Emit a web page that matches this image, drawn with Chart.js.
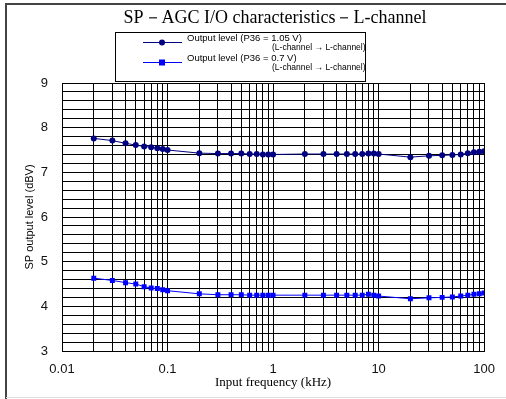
<!DOCTYPE html>
<html>
<head>
<meta charset="utf-8">
<script src="https://cdn.jsdelivr.net/npm/chart.js@4"></script>
<style>
	body { margin: 0; background: #fff; }
</style>
</head>
<body>
<canvas id="grafico" width="506" height="399"></canvas>
<script>
const frequencias = [0.02, 0.03, 0.04, 0.05, 0.06, 0.07, 0.08, 0.09, 0.1,
	0.2, 0.3, 0.4, 0.5, 0.6, 0.7, 0.8, 0.9, 1,
	2, 3, 4, 5, 6, 7, 8, 9, 10,
	20, 30, 40, 50, 60, 70, 80, 90, 100];
const saida105 = [7.76, 7.71, 7.65, 7.61, 7.58, 7.56, 7.54, 7.52, 7.50,
	7.43, 7.42, 7.42, 7.42, 7.41, 7.41, 7.40, 7.40, 7.40,
	7.41, 7.41, 7.41, 7.41, 7.41, 7.41, 7.42, 7.42, 7.41,
	7.34, 7.37, 7.38, 7.39, 7.40, 7.43, 7.45, 7.46, 7.47];
const saida07 = [4.63, 4.58, 4.53, 4.50, 4.44, 4.41, 4.40, 4.37, 4.35,
	4.28, 4.26, 4.26, 4.26, 4.25, 4.25, 4.25, 4.25, 4.25,
	4.25, 4.25, 4.25, 4.25, 4.25, 4.25, 4.27, 4.25, 4.23,
	4.17, 4.19, 4.20, 4.21, 4.23, 4.25, 4.27, 4.28, 4.30];
const xTicks = [0.01, 0.1, 1, 10, 100];
const yTicks = [3, 4, 5, 6, 7, 8, 9];
const legendas = [
	['Output level (P36 = 1.05 V)', '(L-channel \u2192 L-channel)'],
	['Output level (P36 = 0.7 V)', '(L-channel \u2192 L-channel)']
];
const titulo = 'SP\uFF0DAGC I/O characteristics\uFF0DL-channel';
const cores = ['#000080', '#0000ff'];

function pontos(valores){
	let temp = [];
	valores.map((v, i) => {
		temp.push({x: frequencias[i], y: v});
	})
	return temp;
}

// grade log: 1..9 em cada decada
function ticksLog(scale){
	let temp = [];
	for (let d = 0; d < xTicks.length - 1; d++) {
		for (let k = 1; k < 10; k++) {
			temp.push({value: xTicks[d] * k, major: k == 1});
		}
	}
	temp.push({value: xTicks[xTicks.length - 1], major: true});
	scale.ticks = temp;
}

function ticksY(scale){
	let temp = [];
	let passos = (yTicks[yTicks.length - 1] - yTicks[0]) * 5;
	for (let i = 0; i <= passos; i++) {
		temp.push({value: yTicks[0] + i / 5});
	}
	scale.ticks = temp;
}

const extras = {
	id: 'extras',
	beforeDraw(chart){
		let ctx = chart.ctx;
		ctx.save();
		ctx.fillStyle = '#fff';
		ctx.fillRect(0, 0, chart.width, chart.height);
		ctx.restore();
	},
	afterDraw(chart){
		let ctx = chart.ctx;
		ctx.save();
		// moldura
		ctx.strokeStyle = '#444';
		ctx.lineWidth = 2;
		ctx.beginPath();
		ctx.moveTo(6, 399);
		ctx.lineTo(6, 4);
		ctx.lineTo(506, 4);
		ctx.stroke();
		ctx.strokeStyle = '#ddd';
		ctx.lineWidth = 1;
		ctx.beginPath();
		ctx.moveTo(6, 397.5);
		ctx.lineTo(506, 397.5);
		ctx.stroke();

		// titulo
		ctx.fillStyle = '#000';
		ctx.font = '18px "Liberation Serif", serif';
		ctx.textAlign = 'center';
		ctx.textBaseline = 'middle';
		ctx.fillText(titulo, 275, 18);

		// legenda
		ctx.strokeStyle = '#000';
		ctx.lineWidth = 1;
		ctx.strokeRect(115.5, 32.5, 250, 49);
		ctx.textAlign = 'left';
		legendas.map((l, i) => {
			let y = 42 + i * 20;
			ctx.strokeStyle = cores[i];
			ctx.fillStyle = cores[i];
			ctx.beginPath();
			ctx.moveTo(143, y + 0.5);
			ctx.lineTo(182, y + 0.5);
			ctx.stroke();
			if (i == 0) {
				ctx.beginPath();
				ctx.arc(162, y + 0.5, 3, 0, Math.PI * 2);
				ctx.fill();
			} else {
				ctx.fillRect(159, y - 2.5, 6, 6);
			}
			ctx.fillStyle = '#000';
			ctx.font = '9.5px "Liberation Sans", sans-serif';
			ctx.fillText(l[0], 187, y - 4);
			ctx.font = '8.5px "Liberation Sans", sans-serif';
			ctx.fillText(l[1], 272, y + 6);
		})
		ctx.restore();
	}
};

function montaGrafico(){
	let ctx = document.getElementById('grafico');
	new Chart(ctx, {
		type: 'line',
		data: {
			datasets: [{
				label: legendas[0][0],
				data: pontos(saida105),
				borderColor: cores[0],
				backgroundColor: cores[0],
				borderWidth: 1,
				pointStyle: 'circle',
				pointRadius: 3,
				pointBorderWidth: 0
			}, {
				label: legendas[1][0],
				data: pontos(saida07),
				borderColor: cores[1],
				backgroundColor: cores[1],
				borderWidth: 1,
				pointStyle: 'rect',
				pointRadius: 3.5,
				pointBorderWidth: 0
			}]
		},
		options: {
			responsive: false,
			animation: false,
			layout: {
				padding: {left: 0, right: 18, top: 83, bottom: 0}
			},
			plugins: {
				legend: { display: false },
				title: { display: false },
				tooltip: { enabled: false }
			},
			scales: {
				x: {
					type: 'logarithmic',
					min: 0.01,
					max: 100,
					afterBuildTicks: ticksLog,
					afterFit: (s) => { s.height = 48; },
					grid: { color: '#000', lineWidth: 1, drawTicks: false },
					border: { color: '#000', width: 1 },
					ticks: {
						autoSkip: false,
						maxRotation: 0,
						padding: 11,
						color: '#111',
						font: { family: 'Liberation Sans', size: 13 },
						callback: (v) => xTicks.indexOf(v) >= 0 ? String(v) : ''
					},
					title: {
						display: true,
						text: 'Input frequency (kHz)',
						color: '#000',
						font: { family: 'Liberation Serif', size: 13 },
						padding: { top: 9, bottom: 9 }
					}
				},
				y: {
					min: 3,
					max: 9,
					afterBuildTicks: ticksY,
					afterFit: (s) => { s.width = 62; },
					grid: { color: '#000', lineWidth: 1, drawTicks: false },
					border: { color: '#000', width: 1 },
					ticks: {
						autoSkip: false,
						padding: 14,
						color: '#111',
						font: { family: 'Liberation Sans', size: 13 },
						callback: (v) => Math.abs(v - Math.round(v)) < 1e-6 ? String(Math.round(v)) : ''
					},
					title: {
						display: true,
						text: 'SP output level (dBV)',
						color: '#000',
						font: { family: 'Liberation Sans', size: 11 },
						padding: { top: 23, bottom: 23 }
					}
				}
			}
		},
		plugins: [extras]
	});
}

montaGrafico();
</script>
</body>
</html>
